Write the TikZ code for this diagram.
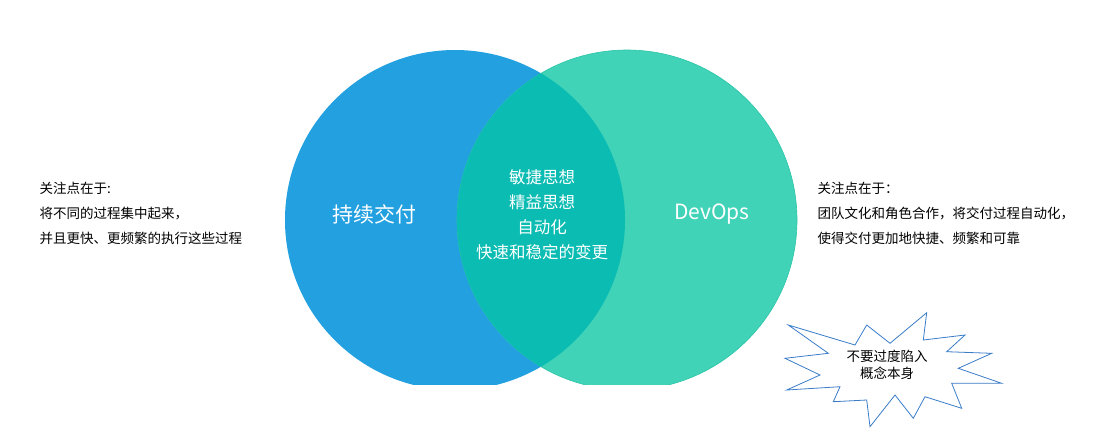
\documentclass[tikz,border=0pt]{standalone}
\usepackage{fontspec}
\setmainfont{Noto Sans CJK SC}
\definecolor{cblue}{HTML}{22A0E0}
\definecolor{cgreen}{HTML}{40D3B8}
\definecolor{cteal}{HTML}{0BBCB3}
\definecolor{cedge}{HTML}{2CC4A6}
\definecolor{starblue}{HTML}{3A7CC8}
\begin{document}
\begin{tikzpicture}[x=1pt,y=-1pt,
  side/.style={anchor=west,font=\fontsize{13.5}{25}\selectfont,text=black,align=left},
  big/.style={text=white,font=\fontsize{21}{24}\selectfont},
  mid/.style={text=white,font=\fontsize{16.5}{25}\selectfont,align=center}]
\useasboundingbox (0,0) rectangle (1108,432);
\begin{scope}
\clip (0,0) rectangle (1108,384);
\fill[cblue] (455,220) circle (170);
\fill[cgreen] (627,220) circle (170);
\draw[cedge,line width=0.6pt] (627,220) circle (170);
\begin{scope}
\clip (455,220) circle (170);
\fill[cteal] (627,220) circle (170);
\end{scope}
\end{scope}
\node[big] (cd) at (374,214) {持续交付};
\node[big] (dev) at (712,214) {DevOps};
\node[mid] (mid) at (542,215) {敏捷思想\\精益思想\\自动化\\快速和稳定的变更};
\node[side] (lt) at (36,213) {关注点在于:\\将不同的过程集中起来，\\并且更快、更频繁的执行这些过程};
\node[side] (rt) at (814,213) {关注点在于：\\团队文化和角色合作，将交付过程自动化，\\使得交付更加地快捷、频繁和可靠};
\draw[starblue,line width=0.8pt,fill=white] (788.3,325)--(855,345)--(866.7,325)--(890,343.3)--(926.7,312.7)--(923.3,340)--(965,335)--(946.7,351.7)--(991.7,353.3)--(958.3,368.3)--(1001.7,383.3)--(951.7,383.3)--(961.7,408.3)--(925,396.7)--(913.3,418.3)--(895,395)--(870,426.7)--(866.7,400)--(833.3,401.7)--(840,386.7)--(786.7,390)--(820,375)--(785,358.3)--(828.3,353.3)--cycle;
\node[align=center,font=\fontsize{13.5}{17}\selectfont] (star) at (887,365) {不要过度陷入\\概念本身};
\end{tikzpicture}
\end{document}
